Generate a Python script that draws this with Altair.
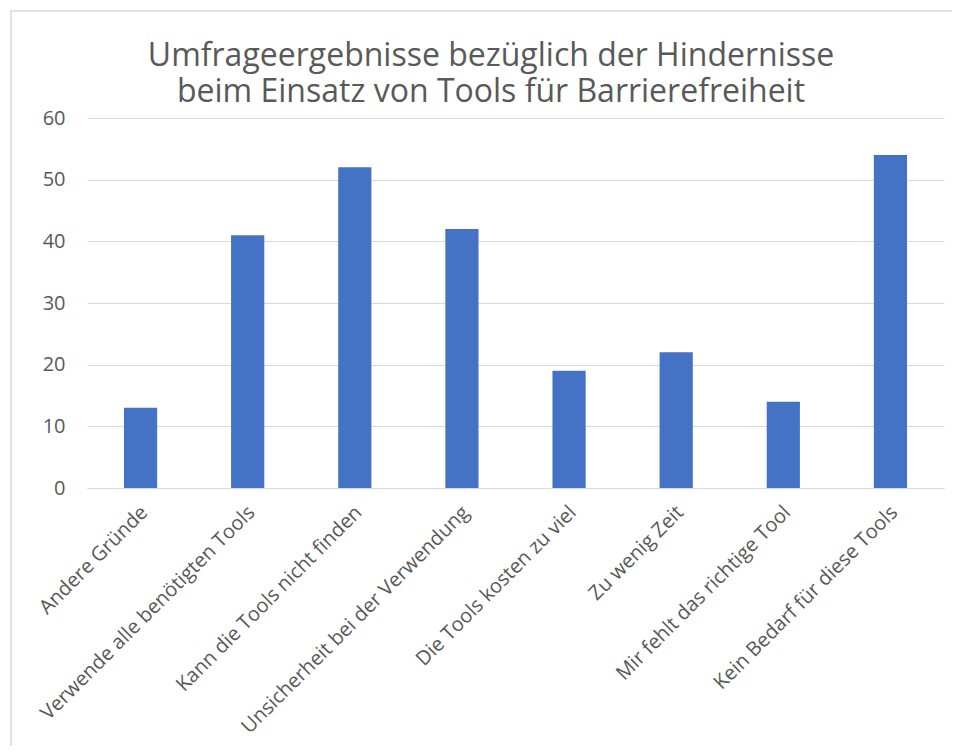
import altair as alt
import pandas as pd

categories = [
    "Andere Gründe",
    "Verwende alle benötigten Tools",
    "Kann die Tools nicht finden",
    "Unsicherheit bei der Verwendung",
    "Die Tools kosten zu viel",
    "Zu wenig Zeit",
    "Mir fehlt das richtige Tool",
    "Kein Bedarf für diese Tools",
]
values = [13, 41, 52, 42, 19, 22, 14, 54]
y_ticks = [0, 10, 20, 30, 40, 50, 60]
title_line1 = "Umfrageergebnisse bezüglich der Hindernisse"
title_line2 = "beim Einsatz von Tools für Barrierefreiheit"

df = pd.DataFrame({"Kategorie": categories, "Wert": values})

FONT = "Open Sans"
GRAY = "#595959"
GRID = "#d9d9d9"

bars = alt.Chart(df).mark_bar(color="#4472C4").encode(
    x=alt.X(
        "Kategorie:N",
        sort=categories,
        title=None,
        scale=alt.Scale(paddingInner=0.69, paddingOuter=0.345),
        axis=alt.Axis(
            labelAngle=-45,
            labelAlign="right",
            labelBaseline="middle",
            labelPadding=21,
            labelOffset=4,
            labelFontSize=20,
            labelFont=FONT,
            labelColor=GRAY,
            ticks=False,
            domainColor=GRID,
            domainWidth=1,
            labelLimit=400,
        ),
    ),
    y=alt.Y(
        "Wert:Q",
        title=None,
        scale=alt.Scale(domain=[0, 60], nice=False),
        axis=alt.Axis(
            values=y_ticks,
            labelFontSize=20,
            labelFont=FONT,
            labelColor=GRAY,
            labelPadding=22,
            ticks=False,
            domain=False,
            gridColor=GRID,
            gridWidth=1,
        ),
    ),
)

single = alt.Data(values=[{"a": 1}])

border = alt.Chart(single).mark_rect(
    fill="transparent", stroke=GRID, strokeWidth=1.5
).encode(
    x=alt.value(-76),
    x2=alt.value(1000),
    y=alt.value(-107),
    y2=alt.value(800),
)

def title_text(txt, y):
    return alt.Chart(single).mark_text(
        text=txt,
        font=FONT,
        fontSize=32,
        color=GRAY,
        align="center",
        baseline="alphabetic",
    ).encode(x=alt.value(404), y=alt.value(y))

chart = alt.layer(
    border, bars, title_text(title_line1, -52), title_text(title_line2, -16)
).properties(
    width=857,
    height=370,
    autosize=alt.AutoSizeParams(type="none"),
    padding={"left": 79, "top": 110, "right": 8, "bottom": 258},
).configure_view(stroke=None)

chart.save("out.html", embed_options={"renderer": "svg", "actions": False})
